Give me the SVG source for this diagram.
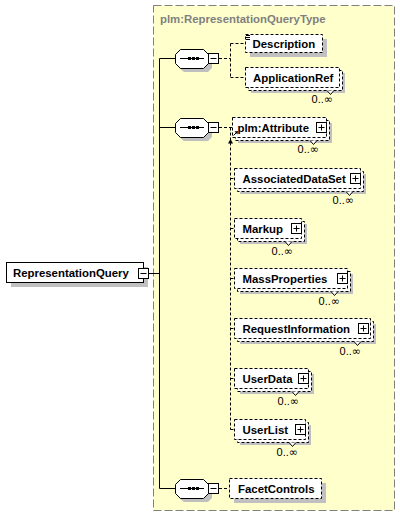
<svg xmlns="http://www.w3.org/2000/svg" width="400" height="516" viewBox="0 0 400 516">
<defs>
<style>
.bg{fill:#FFFFFF}
.type{fill:#FFFFCC;stroke:#808080;stroke-width:1;stroke-dasharray:8,3}
.title{font-family:"Liberation Sans",Arial,sans-serif;font-size:11.4px;font-weight:bold;fill:#808080}
.sh{fill:#C0C0C0}
.box{fill:#FFFFFF;stroke:#000000;stroke-width:1;stroke-dasharray:3,2}
.solid{fill:#FFFFFF;stroke:#000000;stroke-width:1}
.lbl{font-family:"Liberation Sans",Arial,sans-serif;font-size:11.4px;font-weight:bold;fill:#000000}
.occ{font-family:"Liberation Sans",Arial,sans-serif;font-size:11px;fill:#000000;text-anchor:end}
.inf{font-family:"DejaVu Sans",sans-serif;font-size:11px}
.ln{fill:none;stroke:#000000;stroke-width:1}
.dl{fill:none;stroke:#000000;stroke-width:1;stroke-dasharray:3,2}
.ic{fill:none;stroke:#000000;stroke-width:1}
</style>
</defs>
<rect x="0" y="0" width="400" height="516" class="bg"/>
<g id="type-box">
<rect x="153.5" y="5.5" width="241" height="505" class="type"/>
<text x="160" y="23" class="title">plm:RepresentationQueryType</text>
</g>

<g id="connectors">
<path class="ln" d="M148,273.5 H159.5 M159.5,58.5 V488.5 M159.5,58.5 H175 M159.5,127.5 H175 M159.5,488.5 H175"/>
<path class="dl" d="M219,58.5 H230.5 M230.5,43.5 V77.5 M230.5,43.5 H245.5 M230.5,77.5 H245.5"/>
<path class="dl" d="M219,127.5 H232.5 M230.5,127.5 V429.5 M230.5,178.5 H234.5 M230.5,228.5 H234.5 M230.5,278.5 H234.5 M230.5,328.5 H234.5 M230.5,378.5 H234.5 M230.5,429.5 H234.5"/>
<path d="M230.5,139 L228,143.5 L233,143.5 Z" fill="#000000"/>
<path class="dl" d="M219,488.5 H229.5"/>
</g>

<g id="RepresentationQuery">
<rect x="11" y="267" width="137" height="20" class="sh"/>
<rect x="6.5" y="262.5" width="137" height="20" class="solid"/>
<text x="13" y="276.5" class="lbl">RepresentationQuery</text>
<rect x="138.5" y="268.5" width="10" height="10" class="solid"/>
<path class="ic" d="M140.5,273.5 H146.5"/>
</g>

<g id="sequence1">
<path class="sh" d="M184,53 H208 L212,57 V68 L208,72 H184 L179,68 V57 Z"/>
<path class="solid" d="M180.5,49.5 H203.5 L208.5,54.5 V63.5 L203.5,68.5 H180.5 L175.5,63.5 V54.5 Z"/>
<path class="ic" d="M180,58.5 H204"/>
<rect x="188" y="57" width="3" height="3"/><rect x="192" y="57" width="3" height="3"/><rect x="196" y="57" width="3" height="3"/>
<rect x="208.5" y="53.5" width="10" height="10" class="solid"/>
<path class="ic" d="M210.5,58.5 H216.5"/>
</g>

<g id="sequence2">
<path class="sh" d="M184,122 H208 L212,126 V137 L208,141 H184 L179,137 V126 Z"/>
<path class="solid" d="M180.5,118.5 H203.5 L208.5,123.5 V132.5 L203.5,137.5 H180.5 L175.5,132.5 V123.5 Z"/>
<path class="ic" d="M180,127.5 H204"/>
<rect x="188" y="126" width="3" height="3"/><rect x="192" y="126" width="3" height="3"/><rect x="196" y="126" width="3" height="3"/>
<rect x="208.5" y="122.5" width="10" height="10" class="solid"/>
<path class="ic" d="M210.5,127.5 H216.5"/>
</g>

<g id="sequence3">
<path class="sh" d="M184,483 H208 L212,487 V498 L208,502 H184 L179,498 V487 Z"/>
<path class="solid" d="M180.5,479.5 H203.5 L208.5,484.5 V493.5 L203.5,498.5 H180.5 L175.5,493.5 V484.5 Z"/>
<path class="ic" d="M180,488.5 H204"/>
<rect x="188" y="487" width="3" height="3"/><rect x="192" y="487" width="3" height="3"/><rect x="196" y="487" width="3" height="3"/>
<rect x="208.5" y="483.5" width="10" height="10" class="solid"/>
<path class="ic" d="M210.5,488.5 H216.5"/>
</g>

<g id="Description">
<rect x="250" y="39" width="77" height="18" class="sh"/>
<rect x="245.5" y="34.5" width="77" height="18" class="box"/>
<path class="ic" d="M246,35.5 H250 M246,37.5 H250 M246,39.5 H250"/>
<text x="252.5" y="47.5" class="lbl">Description</text>
</g>

<g id="ApplicationRef">
<rect x="251" y="73" width="94" height="20" class="sh"/>
<rect x="248.5" y="70.5" width="94" height="20" class="box"/>
<rect x="245.5" y="67.5" width="94" height="20" class="box"/>
<path class="solid" d="M327,90.5 L330.5,94.5 L334,90.5"/>
<text x="253" y="81.5" class="lbl">ApplicationRef</text>
<text x="333" y="102.5" class="occ">0..<tspan class="inf">∞</tspan></text>
</g>

<g id="plm-Attribute">
<rect x="238" y="123" width="94" height="20" class="sh"/>
<rect x="235.5" y="120.5" width="94" height="20" class="box"/>
<rect x="232.5" y="117.5" width="94" height="20" class="box"/>
<path class="ic" d="M233.5,135.5 L237,132"/>
<path d="M238,131 L234.5,131.6 L237.4,134.5 Z" fill="#000000"/>
<text x="237.5" y="131.5" class="lbl">plm:Attribute</text>
<rect x="316.5" y="122.5" width="10" height="10" class="solid"/>
<path class="ic" d="M318.5,127.5 H324.5 M321.5,124.5 V130.5"/>
<path class="solid" d="M310,140.5 L313.5,144.5 L317,140.5"/>
<text x="319" y="153" class="occ">0..<tspan class="inf">∞</tspan></text>
</g>

<g id="AssociatedDataSet">
<rect x="240" y="174" width="126" height="20" class="sh"/>
<rect x="237.5" y="171.5" width="126" height="20" class="box"/>
<rect x="234.5" y="168.5" width="126" height="20" class="box"/>
<text x="242.5" y="182.5" class="lbl">AssociatedDataSet</text>
<rect x="350.5" y="173.5" width="10" height="10" class="solid"/>
<path class="ic" d="M352.5,178.5 H358.5 M355.5,175.5 V181.5"/>
<path class="solid" d="M346,191.5 L349.5,195.5 L353,191.5"/>
<text x="354" y="204" class="occ">0..<tspan class="inf">∞</tspan></text>
</g>

<g id="Markup">
<rect x="240" y="224" width="67" height="20" class="sh"/>
<rect x="237.5" y="221.5" width="67" height="20" class="box"/>
<rect x="234.5" y="218.5" width="67" height="20" class="box"/>
<text x="242.5" y="232.5" class="lbl">Markup</text>
<rect x="291.5" y="223.5" width="10" height="10" class="solid"/>
<path class="ic" d="M293.5,228.5 H299.5 M296.5,225.5 V231.5"/>
<path class="solid" d="M285,241.5 L288.5,245.5 L292,241.5"/>
<text x="293" y="255" class="occ">0..<tspan class="inf">∞</tspan></text>
</g>

<g id="MassProperties">
<rect x="240" y="274" width="113" height="20" class="sh"/>
<rect x="237.5" y="271.5" width="113" height="20" class="box"/>
<rect x="234.5" y="268.5" width="113" height="20" class="box"/>
<text x="242.5" y="282.5" class="lbl">MassProperties</text>
<rect x="337.5" y="273.5" width="10" height="10" class="solid"/>
<path class="ic" d="M339.5,278.5 H345.5 M342.5,275.5 V281.5"/>
<path class="solid" d="M331,291.5 L334.5,295.5 L338,291.5"/>
<text x="340" y="305" class="occ">0..<tspan class="inf">∞</tspan></text>
</g>

<g id="RequestInformation">
<rect x="240" y="324" width="136" height="20" class="sh"/>
<rect x="237.5" y="321.5" width="136" height="20" class="box"/>
<rect x="234.5" y="318.5" width="136" height="20" class="box"/>
<text x="242.5" y="332.5" class="lbl">RequestInformation</text>
<rect x="358.5" y="323.5" width="10" height="10" class="solid"/>
<path class="ic" d="M360.5,328.5 H366.5 M363.5,325.5 V331.5"/>
<path class="solid" d="M354,341.5 L357.5,345.5 L361,341.5"/>
<text x="361" y="355" class="occ">0..<tspan class="inf">∞</tspan></text>
</g>

<g id="UserData">
<rect x="240" y="374" width="74" height="20" class="sh"/>
<rect x="237.5" y="371.5" width="74" height="20" class="box"/>
<rect x="234.5" y="368.5" width="74" height="20" class="box"/>
<text x="242.5" y="382.5" class="lbl">UserData</text>
<rect x="298.5" y="373.5" width="10" height="10" class="solid"/>
<path class="ic" d="M300.5,378.5 H306.5 M303.5,375.5 V381.5"/>
<path class="solid" d="M292,391.5 L295.5,395.5 L299,391.5"/>
<text x="299" y="405" class="occ">0..<tspan class="inf">∞</tspan></text>
</g>

<g id="UserList">
<rect x="240" y="425" width="71" height="20" class="sh"/>
<rect x="237.5" y="422.5" width="71" height="20" class="box"/>
<rect x="234.5" y="419.5" width="71" height="20" class="box"/>
<text x="242.5" y="433.5" class="lbl">UserList</text>
<rect x="295.5" y="424.5" width="10" height="10" class="solid"/>
<path class="ic" d="M297.5,429.5 H303.5 M300.5,426.5 V432.5"/>
<path class="solid" d="M289,442.5 L292.5,446.5 L296,442.5"/>
<text x="298" y="456" class="occ">0..<tspan class="inf">∞</tspan></text>
</g>

<g id="FacetControls">
<rect x="234" y="483" width="92" height="20" class="sh"/>
<rect x="229.5" y="478.5" width="92" height="20" class="box"/>
<text x="238" y="492.5" class="lbl">FacetControls</text>
</g>
</svg>
